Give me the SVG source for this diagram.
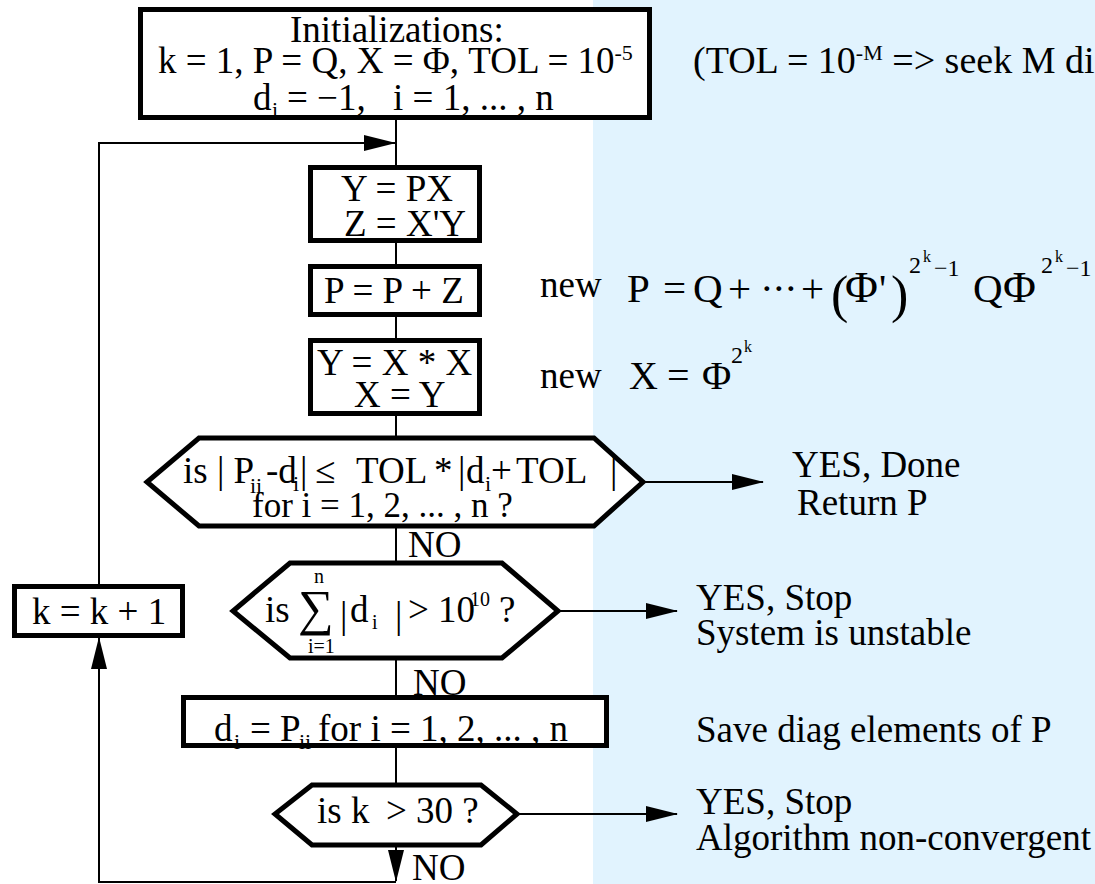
<svg xmlns="http://www.w3.org/2000/svg" width="1095" height="884" viewBox="0 0 1095 884" font-family="'Liberation Serif','Times New Roman',serif" font-size="37">
<style>
.sub{font-size:22px}
.box{fill:#fff;stroke:#000;stroke-width:5}
.con{fill:none;stroke:#000;stroke-width:2}
.arr{marker-end:url(#ah)}
</style>
<defs>
<marker id="ah" markerUnits="userSpaceOnUse" markerWidth="32" markerHeight="16" refX="31" refY="8" orient="auto">
<path d="M0,0 L32,8 L0,16 z" fill="#000"/>
</marker>
</defs>
<rect x="0" y="0" width="1095" height="884" fill="#fff"/>
<rect x="593" y="0" width="502" height="884" fill="#E1F3FE"/>

<g id="connectors">
<line class="con" x1="396" y1="120" x2="396" y2="166"/>
<line class="con" x1="396" y1="242" x2="396" y2="265"/>
<line class="con" x1="396" y1="316" x2="396" y2="339"/>
<line class="con" x1="396" y1="415" x2="396" y2="437"/>
<line class="con" x1="396" y1="527" x2="396" y2="563"/>
<line class="con" x1="396" y1="658" x2="396" y2="696"/>
<line class="con" x1="396" y1="747" x2="396" y2="785"/>
<path class="con arr" d="M396,845 V881"/>
<path class="con arr" d="M396,882 H99 V638"/>
<path class="con arr" d="M99,584 V143 H395"/>
<path class="con arr" d="M643,482 H763"/>
<path class="con arr" d="M558,611 H677"/>
<path class="con arr" d="M517,814 H677"/>
</g>

<g id="init">
<rect class="box" x="140.5" y="9.5" width="509" height="108"/>
<text x="290" y="42">Initializations:</text>
<text y="73"><tspan x="158">k = 1, P = Q, X = Φ, TOL = 10</tspan><tspan class="sub" dy="-13">-5</tspan></text>
<text y="110"><tspan x="253">d</tspan><tspan class="sub" x="272" y="117">i</tspan><tspan x="287" y="110">= −1,</tspan><tspan x="393" y="110">i = 1, ... , n</tspan></text>
</g>

<g id="tolnote">
<text y="73" font-size="38"><tspan x="693">(TOL = 10</tspan><tspan class="sub" dy="-13">-M</tspan><tspan dy="13"> =&gt; seek M di</tspan></text>
</g>

<g id="ypx">
<rect class="box" x="310.5" y="167.5" width="169" height="73"/>
<text x="341" y="201">Y = PX</text>
<text x="344" y="236">Z = X'Y</text>
</g>

<g id="ppz">
<rect class="box" x="310.5" y="266.5" width="169" height="48"/>
<text x="324" y="303">P = P + Z</text>
</g>

<g id="yxx">
<rect class="box" x="310.5" y="340.5" width="169" height="73"/>
<text x="317" y="375">Y = X * X</text>
<text x="354" y="407">X = Y</text>
</g>

<g id="note-p">
<text x="540" y="297">new</text>
<text font-size="41" y="302"><tspan x="627">P</tspan><tspan x="663">=</tspan><tspan x="693">Q</tspan><tspan x="728">+</tspan><tspan x="760">·</tspan><tspan x="772">·</tspan><tspan x="784">·</tspan><tspan x="801">+</tspan><tspan x="973">Q</tspan></text>
<text font-size="45" y="302"><tspan x="845">Φ</tspan><tspan x="879" font-size="40">'</tspan><tspan x="1003">Φ</tspan></text>
<text font-size="52" y="312"><tspan x="831">(</tspan><tspan x="891">)</tspan></text>
<text font-size="24" y="273"><tspan x="909">2</tspan><tspan x="1041">2</tspan></text>
<text font-size="16" y="262"><tspan x="923">k</tspan><tspan x="1055">k</tspan></text>
<text font-size="24" y="276"><tspan x="934">−1</tspan><tspan x="1066">−1</tspan></text>
</g>

<g id="note-x">
<text x="540" y="388">new</text>
<text font-size="40" y="389"><tspan x="629">X</tspan><tspan x="667">=</tspan><tspan x="702">Φ</tspan></text>
<text font-size="24" x="731" y="363">2</text>
<text font-size="16" x="744" y="352">k</text>
</g>

<g id="check-tol">
<polygon class="box" points="199,438 594,438 643,482 594,526 199,526 147,482"/>
<text y="483"><tspan x="183">is | P</tspan><tspan class="sub" x="250" y="493">ii</tspan><tspan x="266" y="483">-d</tspan><tspan class="sub" x="293" y="491">i</tspan><tspan x="300" y="483">|</tspan><tspan x="315">≤</tspan><tspan x="356">TOL</tspan><tspan x="434">*</tspan><tspan x="458">|</tspan><tspan x="466">d</tspan><tspan class="sub" x="485" y="491">i</tspan><tspan x="491" y="483">+</tspan><tspan x="516">TOL</tspan><tspan x="610">|</tspan></text>
<text x="252" y="517" font-size="35">for i = 1, 2, ... , n ?</text>
</g>
<text id="no1" x="408" y="557">NO</text>

<g id="done">
<text x="792" y="477">YES, Done</text>
<text x="797" y="515">Return P</text>
</g>

<g id="check-sum">
<polygon class="box" points="290,563 502,563 558,611 502,658 290,658 233,611"/>
<text x="265" y="622">is</text>
<text x="298" y="625" font-size="50">∑</text>
<text x="314" y="583" font-size="20">n</text>
<text x="308" y="653" font-size="20">i=1</text>
<text x="340" y="628">|</text>
<text x="350" y="622">d</text>
<text x="372" y="629" font-size="20">i</text>
<text x="395" y="628">|</text>
<text y="622"><tspan x="408">&gt; 10</tspan><tspan font-size="20" x="470" y="606">10</tspan><tspan x="499" y="622">?</tspan></text>
</g>
<text id="no2" x="413" y="695">NO</text>

<g id="unstable">
<text x="696" y="610">YES, Stop</text>
<text x="696" y="645">System is unstable</text>
</g>

<g id="kbox">
<rect class="box" x="14.5" y="586.5" width="168" height="49"/>
<text x="32" y="624">k = k + 1</text>
</g>

<g id="save">
<rect class="box" x="183.5" y="697.5" width="423" height="48"/>
<text y="741"><tspan x="214">d</tspan><tspan class="sub" x="234" y="749">i</tspan><tspan x="250" y="741">= P</tspan><tspan class="sub" x="299" y="749">ii</tspan><tspan x="318" y="741">for i = 1, 2, ... , n</tspan></text>
</g>
<text x="696" y="742">Save diag elements of P</text>

<g id="check-k">
<polygon class="box" points="312,785 481,785 517,814 481,845 312,845 275,814"/>
<text y="823"><tspan x="317">is k</tspan><tspan x="386">&gt; 30 ?</tspan></text>
</g>
<text id="no3" x="412" y="880">NO</text>

<g id="nonconv">
<text x="696" y="814">YES, Stop</text>
<text x="696" y="850">Algorithm non-convergent</text>
</g>
</svg>
